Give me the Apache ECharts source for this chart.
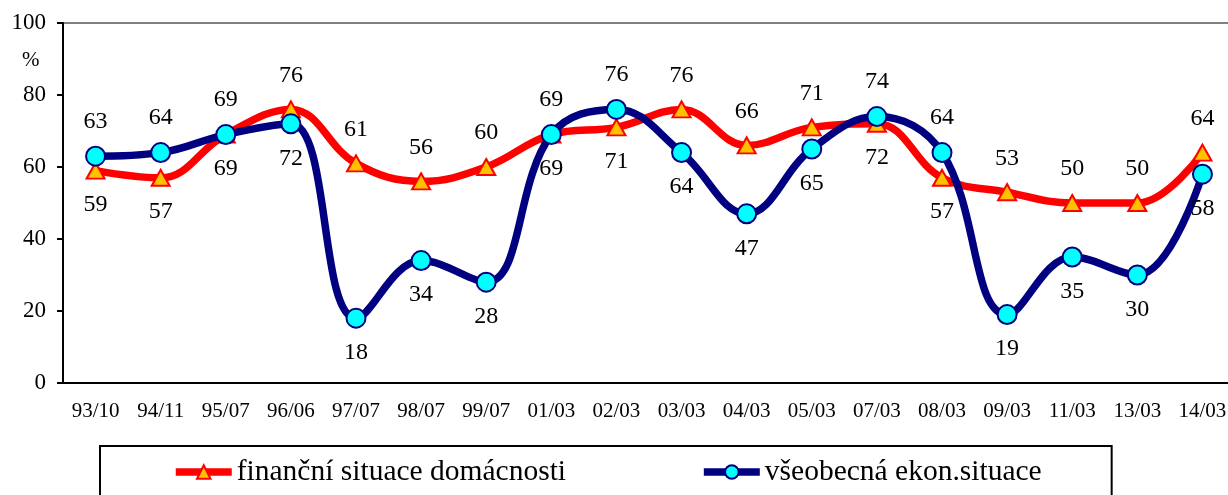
<!DOCTYPE html>
<html>
<head>
<meta charset="utf-8">
<script src="https://cdn.jsdelivr.net/npm/echarts@6/dist/echarts.min.js"></script>
<style>
  html, body { margin: 0; padding: 0; background: #fff; overflow: hidden; }
  /* plocha grafu přesahuje pravý okraj okna */
  #chart { width: 1245px; height: 495px; }
</style>
</head>
<body>
<div id="chart"></div>
<script>
const categories = ['93/10', '94/11', '95/07', '96/06', '97/07', '98/07', '99/07', '01/03', '02/03',
  '03/03', '04/03', '05/03', '07/03', '08/03', '09/03', '11/03', '13/03', '14/03']
const financniValues = [59, 57, 69, 76, 61, 56, 60, 69, 71, 76, 66, 71, 72, 57, 53, 50, 50, 64]
const ekonValues = [63, 64, 69, 72, 18, 34, 28, 69, 76, 64, 47, 65, 74, 64, 19, 35, 30, 58]
const yTicks = [0, 20, 40, 60, 80, 100]

// kde je popisek nad / pod bodem
const financniLabelPos = ['bottom', 'bottom', 'bottom', 'top', 'top', 'top', 'top', 'bottom', 'bottom',
  'top', 'top', 'top', 'bottom', 'bottom', 'top', 'top', 'top', 'top']
const ekonLabelPos = ['top', 'top', 'top', 'bottom', 'bottom', 'bottom', 'bottom', 'top', 'top',
  'bottom', 'bottom', 'bottom', 'top', 'top', 'bottom', 'bottom', 'bottom', 'bottom']

const font = 'Liberation Serif'

function withLabels(values, positions) {
  return values.map((v, i) => ({ value: v, label: { position: positions[i] } }))
}

const chart = echarts.init(document.getElementById('chart'))
chart.setOption({
  animation: false,
  textStyle: { fontFamily: font, color: '#000' },
  title: {
    text: '%',
    left: 17,
    top: 45,
    textStyle: { fontFamily: font, fontSize: 21, fontWeight: 'normal', color: '#000' }
  },
  grid: {
    left: 63,
    top: 23,
    width: 1172,
    height: 360,
    show: true,
    borderColor: '#808080',
    borderWidth: 2
  },
  legend: {
    left: 100,
    top: 446,
    padding: [11, 70, 40, 72],
    itemGap: 134,
    itemWidth: 56,
    itemHeight: 17,
    borderColor: '#000',
    borderWidth: 2,
    textStyle: { fontFamily: font, fontSize: 29.5, color: '#000' },
    data: [
      { name: 'finanční situace domácnosti', lineStyle: { width: 7.5 } },
      { name: 'všeobecná ekon.situace', lineStyle: { width: 7.5 } }
    ]
  },
  xAxis: {
    type: 'category',
    data: categories,
    boundaryGap: true,
    axisLine: { lineStyle: { color: '#000', width: 2 } },
    axisTick: { length: 6, lineStyle: { color: '#000', width: 2 } },
    axisLabel: { fontFamily: font, fontSize: 21, color: '#000', margin: 18 }
  },
  yAxis: {
    type: 'value',
    min: yTicks[0],
    max: yTicks[yTicks.length - 1],
    interval: yTicks[1] - yTicks[0],
    splitLine: { show: false },
    axisLine: { show: true, lineStyle: { color: '#000', width: 2 } },
    axisTick: { show: true, length: 6, lineStyle: { color: '#000', width: 2 } },
    axisLabel: { fontFamily: font, fontSize: 23, color: '#000', margin: 17 }
  },
  series: [
    {
      name: 'finanční situace domácnosti',
      type: 'line',
      smooth: 0.4,
      z: 2,
      data: withLabels(financniValues, financniLabelPos),
      symbol: 'triangle',
      symbolSize: [18, 16],
      lineStyle: { color: '#ff0000', width: 7.5 },
      itemStyle: { color: '#ffc000', borderColor: '#ff0000', borderWidth: 2 },
      label: { show: true, distance: 13, fontFamily: font, fontSize: 24, color: '#000' }
    },
    {
      name: 'všeobecná ekon.situace',
      type: 'line',
      smooth: 0.4,
      z: 3,
      data: withLabels(ekonValues, ekonLabelPos),
      symbol: 'circle',
      symbolSize: 19,
      lineStyle: { color: '#000080', width: 7.5 },
      itemStyle: { color: '#00ffff', borderColor: '#000080', borderWidth: 2 },
      label: { show: true, distance: 12, fontFamily: font, fontSize: 24, color: '#000' }
    }
  ]
})
</script>
</body>
</html>
